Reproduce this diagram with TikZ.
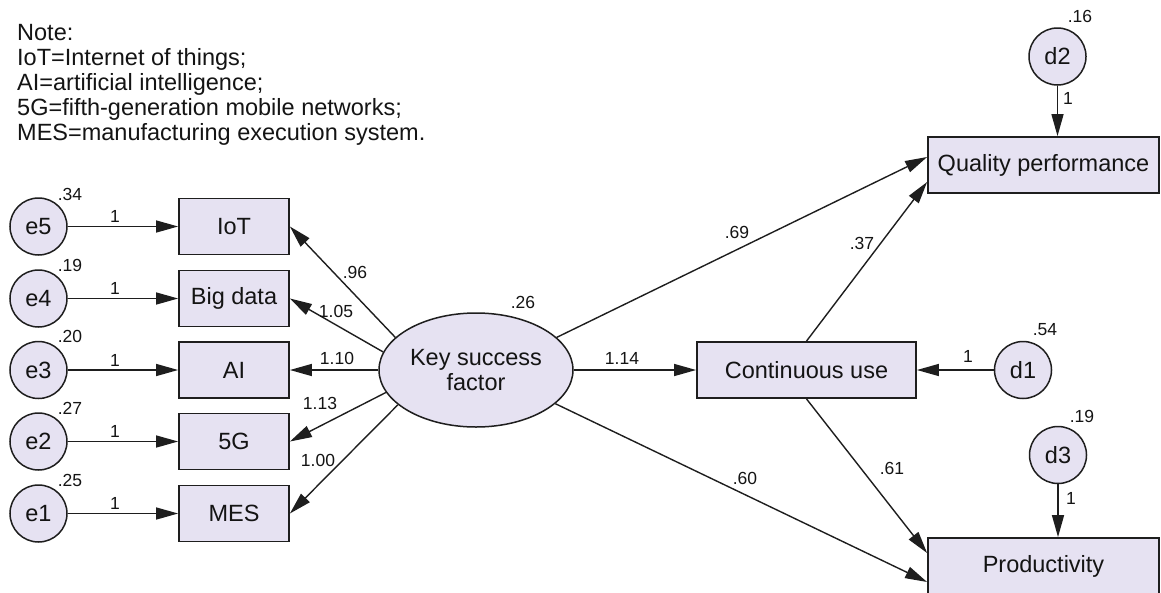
\documentclass[tikz,border=0pt]{standalone}
\usepackage{fontspec}
\setmainfont{Liberation Sans}
\usetikzlibrary{arrows.meta,shapes.geometric,calc}
\definecolor{fillc}{RGB}{230,226,242}
\definecolor{linec}{RGB}{30,30,30}
\definecolor{txt}{RGB}{20,20,20}
\begin{document}
\begin{tikzpicture}[x=1pt,y=-1pt,
  big/.style={font=\fontsize{23.5}{25}\selectfont, text=txt},
  lab/.style={font=\fontsize{17.5}{20}\selectfont, text=txt, inner sep=0pt},
  obs/.style={draw=linec, line width=1.8pt, fill=fillc, minimum width=110pt, minimum height=56pt, inner sep=0pt, big},
  err/.style={circle, draw=linec, line width=1.5pt, fill=fillc, minimum size=57pt, inner sep=0pt, big},
  arr/.style={draw=linec, line width=1.4pt, -{Triangle[length=22pt,width=12pt]}}]
\useasboundingbox (0,0) rectangle (1161,592);
\fill[white] (0,0) rectangle (1161,592);

\node[big, align=left, anchor=north west, inner sep=0pt] (note) at (17,24)
  {Note:\\IoT=Internet of things;\\AI=artificial intelligence;\\5G=fifth-generation mobile networks;\\MES=manufacturing execution system.};

% error terms
\node[err] (e5) at (38.5,226.5) {e5};
\node[err] (e4) at (38.5,298.5) {e4};
\node[err] (e3) at (38.5,370) {e3};
\node[err] (e2) at (38.5,441.5) {e2};
\node[err] (e1) at (38.5,513.5) {e1};

% indicators
\node[obs] (iot) at (234,226.5) {IoT};
\node[obs] (big) at (234,298.5) {Big data};
\node[obs] (ai)  at (234,370) {AI};
\node[obs] (g5)  at (234,441.5) {5G};
\node[obs] (mes) at (234,513.5) {MES};

% latent
\node[ellipse, draw=linec, line width=1.5pt, fill=fillc, minimum width=194pt, minimum height=114pt,
      inner sep=0pt, big, align=center] (ksf) at (476,370) {Key success\\factor};

% outcomes
\node[obs, minimum width=219pt] (cu) at (806.5,370) {Continuous use};
\node[obs, minimum width=231pt] (qp) at (1043.5,165) {Quality performance};
\node[obs, minimum width=231pt] (pr) at (1043.5,566) {Productivity};

\node[err] (d1) at (1023,370) {d1};
\node[err] (d2) at (1057.5,56.5) {d2};
\node[err] (d3) at (1058,455) {d3};

% arrows e -> indicators
\draw[arr] (e5) -- (iot);
\draw[arr] (e4) -- (big);
\draw[arr] (e3) -- (ai);
\draw[arr] (e2) -- (g5);
\draw[arr] (e1) -- (mes);

% loadings
\draw[arr] (ksf.158) -- (iot.east);
\draw[arr] (ksf.169) -- (big.east);
\draw[arr] (ksf.180) -- (ai.east);
\draw[arr] (ksf.194) -- (g5.east);
\draw[arr] (ksf.204) -- (mes.east);

% structural paths
\draw[arr] (ksf) -- (cu);
\draw[arr] (ksf.22) -- ([yshift=8pt]qp.west);
\draw[arr] (ksf.-23) -- ([yshift=-16pt]pr.west);
\draw[arr] (cu.north) -- ([yshift=-17pt]qp.west);
\draw[arr] (cu.south) -- ([yshift=13pt]pr.west);
\draw[arr] (d1) -- (cu);
\draw[arr] (d2.south) -- (d2.south |- qp.north);
\draw[arr] (d3.south) -- (d3.south |- pr.north);

% labels
\node[lab] (v5) at (70,194) {.34};
\node[lab] (v4) at (70,265) {.19};
\node[lab] (v3) at (70,336) {.20};
\node[lab] (v2) at (70,408) {.27};
\node[lab] (v1) at (70,480) {.25};
\node[lab] (w5) at (115,216.5) {1};
\node[lab] (w4) at (115,288.5) {1};
\node[lab] (w3) at (115,360) {1};
\node[lab] (w2) at (115,431.5) {1};
\node[lab] (w1) at (115,503.5) {1};
\node[lab] (l5) at (355,272) {.96};
\node[lab] (l4) at (336,311) {1.05};
\node[lab] (l3) at (337,358) {1.10};
\node[lab] (l2) at (320,403) {1.13};
\node[lab] (l1) at (318,460) {1.00};
\node[lab] (vk) at (523,302) {.26};
\node[lab] (p1) at (622,358) {1.14};
\node[lab] (p2) at (737,232) {.69};
\node[lab] (p3) at (862,243) {.37};
\node[lab] (p4) at (745,478) {.60};
\node[lab] (p5) at (892,468) {.61};
\node[lab] (vd1) at (1045,330) {.54};
\node[lab] (wd1) at (968,356) {1};
\node[lab] (vd2) at (1080,16) {.16};
\node[lab] (wd2) at (1068,98) {1};
\node[lab] (vd3) at (1082,416) {.19};
\node[lab] (wd3) at (1071,498) {1};
\end{tikzpicture}
\end{document}
